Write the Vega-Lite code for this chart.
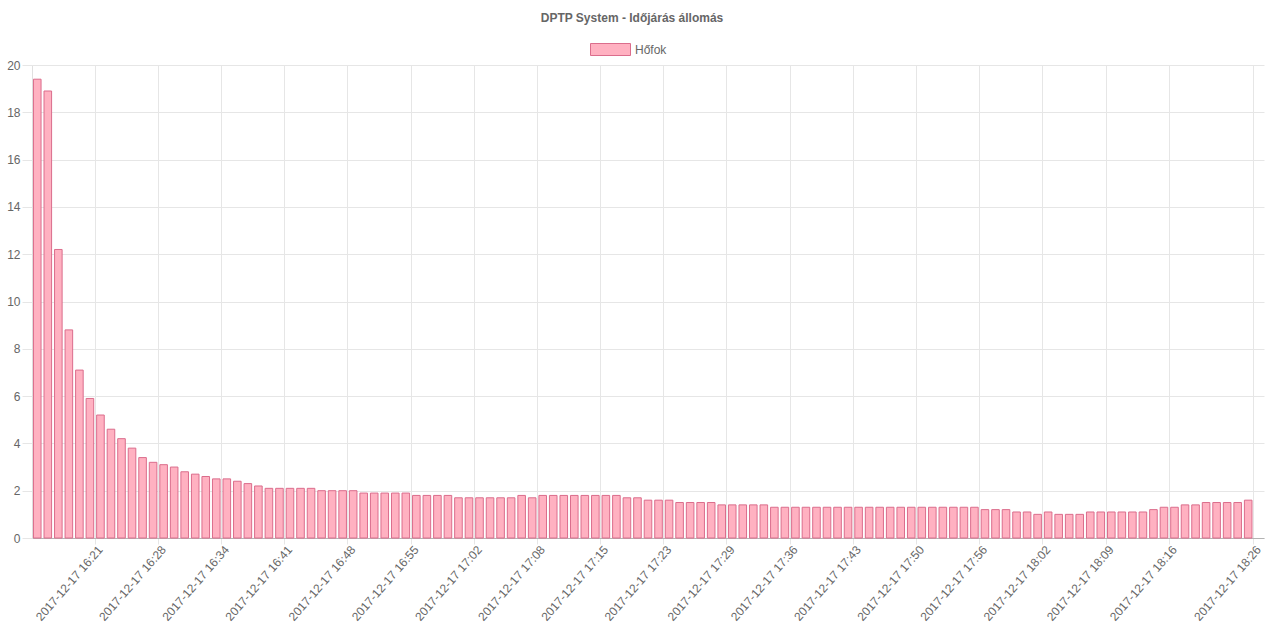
{
  "$schema": "https://vega.github.io/schema/vega-lite/v6.json",
  "width": 1232,
  "height": 473,
  "autosize": {"type": "none"},
  "padding": {"left": 32, "top": 65, "right": 16, "bottom": 100},
  "background": "white",
  "title": {
    "text": "DPTP System - Időjárás állomás",
    "anchor": "middle",
    "frame": "group",
    "dx": -16,
    "offset": -1,
    "baseline": "middle",
    "font": "Liberation Sans",
    "fontSize": 12,
    "fontWeight": "bold",
    "color": "#666666"
  },
  "data": {
    "values": [
      {"ido": "2017-12-17 16:14", "hofok": 19.4, "sorozat": "Hőfok"},
      {"ido": "2017-12-17 16:15", "hofok": 18.9, "sorozat": "Hőfok"},
      {"ido": "2017-12-17 16:16", "hofok": 12.2, "sorozat": "Hőfok"},
      {"ido": "2017-12-17 16:17", "hofok": 8.8, "sorozat": "Hőfok"},
      {"ido": "2017-12-17 16:19", "hofok": 7.1, "sorozat": "Hőfok"},
      {"ido": "2017-12-17 16:20", "hofok": 5.9, "sorozat": "Hőfok"},
      {"ido": "2017-12-17 16:21", "hofok": 5.2, "sorozat": "Hőfok"},
      {"ido": "2017-12-17 16:22", "hofok": 4.6, "sorozat": "Hőfok"},
      {"ido": "2017-12-17 16:23", "hofok": 4.2, "sorozat": "Hőfok"},
      {"ido": "2017-12-17 16:24", "hofok": 3.8, "sorozat": "Hőfok"},
      {"ido": "2017-12-17 16:26", "hofok": 3.4, "sorozat": "Hőfok"},
      {"ido": "2017-12-17 16:27", "hofok": 3.2, "sorozat": "Hőfok"},
      {"ido": "2017-12-17 16:28", "hofok": 3.1, "sorozat": "Hőfok"},
      {"ido": "2017-12-17 16:29", "hofok": 3.0, "sorozat": "Hőfok"},
      {"ido": "2017-12-17 16:30", "hofok": 2.8, "sorozat": "Hőfok"},
      {"ido": "2017-12-17 16:31", "hofok": 2.7, "sorozat": "Hőfok"},
      {"ido": "2017-12-17 16:32", "hofok": 2.6, "sorozat": "Hőfok"},
      {"ido": "2017-12-17 16:33", "hofok": 2.5, "sorozat": "Hőfok"},
      {"ido": "2017-12-17 16:34", "hofok": 2.5, "sorozat": "Hőfok"},
      {"ido": "2017-12-17 16:35", "hofok": 2.4, "sorozat": "Hőfok"},
      {"ido": "2017-12-17 16:36", "hofok": 2.3, "sorozat": "Hőfok"},
      {"ido": "2017-12-17 16:37", "hofok": 2.2, "sorozat": "Hőfok"},
      {"ido": "2017-12-17 16:39", "hofok": 2.1, "sorozat": "Hőfok"},
      {"ido": "2017-12-17 16:40", "hofok": 2.1, "sorozat": "Hőfok"},
      {"ido": "2017-12-17 16:41", "hofok": 2.1, "sorozat": "Hőfok"},
      {"ido": "2017-12-17 16:42", "hofok": 2.1, "sorozat": "Hőfok"},
      {"ido": "2017-12-17 16:43", "hofok": 2.1, "sorozat": "Hőfok"},
      {"ido": "2017-12-17 16:44", "hofok": 2.0, "sorozat": "Hőfok"},
      {"ido": "2017-12-17 16:46", "hofok": 2.0, "sorozat": "Hőfok"},
      {"ido": "2017-12-17 16:47", "hofok": 2.0, "sorozat": "Hőfok"},
      {"ido": "2017-12-17 16:48", "hofok": 2.0, "sorozat": "Hőfok"},
      {"ido": "2017-12-17 16:49", "hofok": 1.9, "sorozat": "Hőfok"},
      {"ido": "2017-12-17 16:50", "hofok": 1.9, "sorozat": "Hőfok"},
      {"ido": "2017-12-17 16:51", "hofok": 1.9, "sorozat": "Hőfok"},
      {"ido": "2017-12-17 16:53", "hofok": 1.9, "sorozat": "Hőfok"},
      {"ido": "2017-12-17 16:54", "hofok": 1.9, "sorozat": "Hőfok"},
      {"ido": "2017-12-17 16:55", "hofok": 1.8, "sorozat": "Hőfok"},
      {"ido": "2017-12-17 16:56", "hofok": 1.8, "sorozat": "Hőfok"},
      {"ido": "2017-12-17 16:57", "hofok": 1.8, "sorozat": "Hőfok"},
      {"ido": "2017-12-17 16:58", "hofok": 1.8, "sorozat": "Hőfok"},
      {"ido": "2017-12-17 17:00", "hofok": 1.7, "sorozat": "Hőfok"},
      {"ido": "2017-12-17 17:01", "hofok": 1.7, "sorozat": "Hőfok"},
      {"ido": "2017-12-17 17:02", "hofok": 1.7, "sorozat": "Hőfok"},
      {"ido": "2017-12-17 17:03", "hofok": 1.7, "sorozat": "Hőfok"},
      {"ido": "2017-12-17 17:04", "hofok": 1.7, "sorozat": "Hőfok"},
      {"ido": "2017-12-17 17:05", "hofok": 1.7, "sorozat": "Hőfok"},
      {"ido": "2017-12-17 17:06", "hofok": 1.8, "sorozat": "Hőfok"},
      {"ido": "2017-12-17 17:07", "hofok": 1.7, "sorozat": "Hőfok"},
      {"ido": "2017-12-17 17:08", "hofok": 1.8, "sorozat": "Hőfok"},
      {"ido": "2017-12-17 17:09", "hofok": 1.8, "sorozat": "Hőfok"},
      {"ido": "2017-12-17 17:10", "hofok": 1.8, "sorozat": "Hőfok"},
      {"ido": "2017-12-17 17:11", "hofok": 1.8, "sorozat": "Hőfok"},
      {"ido": "2017-12-17 17:13", "hofok": 1.8, "sorozat": "Hőfok"},
      {"ido": "2017-12-17 17:14", "hofok": 1.8, "sorozat": "Hőfok"},
      {"ido": "2017-12-17 17:15", "hofok": 1.8, "sorozat": "Hőfok"},
      {"ido": "2017-12-17 17:16", "hofok": 1.8, "sorozat": "Hőfok"},
      {"ido": "2017-12-17 17:17", "hofok": 1.7, "sorozat": "Hőfok"},
      {"ido": "2017-12-17 17:19", "hofok": 1.7, "sorozat": "Hőfok"},
      {"ido": "2017-12-17 17:20", "hofok": 1.6, "sorozat": "Hőfok"},
      {"ido": "2017-12-17 17:22", "hofok": 1.6, "sorozat": "Hőfok"},
      {"ido": "2017-12-17 17:23", "hofok": 1.6, "sorozat": "Hőfok"},
      {"ido": "2017-12-17 17:24", "hofok": 1.5, "sorozat": "Hőfok"},
      {"ido": "2017-12-17 17:25", "hofok": 1.5, "sorozat": "Hőfok"},
      {"ido": "2017-12-17 17:26", "hofok": 1.5, "sorozat": "Hőfok"},
      {"ido": "2017-12-17 17:27", "hofok": 1.5, "sorozat": "Hőfok"},
      {"ido": "2017-12-17 17:28", "hofok": 1.4, "sorozat": "Hőfok"},
      {"ido": "2017-12-17 17:29", "hofok": 1.4, "sorozat": "Hőfok"},
      {"ido": "2017-12-17 17:30", "hofok": 1.4, "sorozat": "Hőfok"},
      {"ido": "2017-12-17 17:31", "hofok": 1.4, "sorozat": "Hőfok"},
      {"ido": "2017-12-17 17:32", "hofok": 1.4, "sorozat": "Hőfok"},
      {"ido": "2017-12-17 17:34", "hofok": 1.3, "sorozat": "Hőfok"},
      {"ido": "2017-12-17 17:35", "hofok": 1.3, "sorozat": "Hőfok"},
      {"ido": "2017-12-17 17:36", "hofok": 1.3, "sorozat": "Hőfok"},
      {"ido": "2017-12-17 17:37", "hofok": 1.3, "sorozat": "Hőfok"},
      {"ido": "2017-12-17 17:38", "hofok": 1.3, "sorozat": "Hőfok"},
      {"ido": "2017-12-17 17:39", "hofok": 1.3, "sorozat": "Hőfok"},
      {"ido": "2017-12-17 17:41", "hofok": 1.3, "sorozat": "Hőfok"},
      {"ido": "2017-12-17 17:42", "hofok": 1.3, "sorozat": "Hőfok"},
      {"ido": "2017-12-17 17:43", "hofok": 1.3, "sorozat": "Hőfok"},
      {"ido": "2017-12-17 17:44", "hofok": 1.3, "sorozat": "Hőfok"},
      {"ido": "2017-12-17 17:45", "hofok": 1.3, "sorozat": "Hőfok"},
      {"ido": "2017-12-17 17:46", "hofok": 1.3, "sorozat": "Hőfok"},
      {"ido": "2017-12-17 17:48", "hofok": 1.3, "sorozat": "Hőfok"},
      {"ido": "2017-12-17 17:49", "hofok": 1.3, "sorozat": "Hőfok"},
      {"ido": "2017-12-17 17:50", "hofok": 1.3, "sorozat": "Hőfok"},
      {"ido": "2017-12-17 17:51", "hofok": 1.3, "sorozat": "Hőfok"},
      {"ido": "2017-12-17 17:52", "hofok": 1.3, "sorozat": "Hőfok"},
      {"ido": "2017-12-17 17:53", "hofok": 1.3, "sorozat": "Hőfok"},
      {"ido": "2017-12-17 17:54", "hofok": 1.3, "sorozat": "Hőfok"},
      {"ido": "2017-12-17 17:55", "hofok": 1.3, "sorozat": "Hőfok"},
      {"ido": "2017-12-17 17:56", "hofok": 1.2, "sorozat": "Hőfok"},
      {"ido": "2017-12-17 17:57", "hofok": 1.2, "sorozat": "Hőfok"},
      {"ido": "2017-12-17 17:58", "hofok": 1.2, "sorozat": "Hőfok"},
      {"ido": "2017-12-17 17:59", "hofok": 1.1, "sorozat": "Hőfok"},
      {"ido": "2017-12-17 18:00", "hofok": 1.1, "sorozat": "Hőfok"},
      {"ido": "2017-12-17 18:01", "hofok": 1.0, "sorozat": "Hőfok"},
      {"ido": "2017-12-17 18:02", "hofok": 1.1, "sorozat": "Hőfok"},
      {"ido": "2017-12-17 18:03", "hofok": 1.0, "sorozat": "Hőfok"},
      {"ido": "2017-12-17 18:04", "hofok": 1.0, "sorozat": "Hőfok"},
      {"ido": "2017-12-17 18:05", "hofok": 1.0, "sorozat": "Hőfok"},
      {"ido": "2017-12-17 18:07", "hofok": 1.1, "sorozat": "Hőfok"},
      {"ido": "2017-12-17 18:08", "hofok": 1.1, "sorozat": "Hőfok"},
      {"ido": "2017-12-17 18:09", "hofok": 1.1, "sorozat": "Hőfok"},
      {"ido": "2017-12-17 18:10", "hofok": 1.1, "sorozat": "Hőfok"},
      {"ido": "2017-12-17 18:11", "hofok": 1.1, "sorozat": "Hőfok"},
      {"ido": "2017-12-17 18:12", "hofok": 1.1, "sorozat": "Hőfok"},
      {"ido": "2017-12-17 18:14", "hofok": 1.2, "sorozat": "Hőfok"},
      {"ido": "2017-12-17 18:15", "hofok": 1.3, "sorozat": "Hőfok"},
      {"ido": "2017-12-17 18:16", "hofok": 1.3, "sorozat": "Hőfok"},
      {"ido": "2017-12-17 18:17", "hofok": 1.4, "sorozat": "Hőfok"},
      {"ido": "2017-12-17 18:18", "hofok": 1.4, "sorozat": "Hőfok"},
      {"ido": "2017-12-17 18:20", "hofok": 1.5, "sorozat": "Hőfok"},
      {"ido": "2017-12-17 18:21", "hofok": 1.5, "sorozat": "Hőfok"},
      {"ido": "2017-12-17 18:22", "hofok": 1.5, "sorozat": "Hőfok"},
      {"ido": "2017-12-17 18:23", "hofok": 1.5, "sorozat": "Hőfok"},
      {"ido": "2017-12-17 18:24", "hofok": 1.6, "sorozat": "Hőfok"}
    ]
  },
  "mark": {
    "type": "bar",
    "width": {"band": 0.72},
    "stroke": "#db6d8c",
    "strokeWidth": 1,
    "opacity": 1
  },
  "encoding": {
    "x": {
      "field": "ido",
      "type": "ordinal",
      "scale": {
        "domain": [
          "2017-12-17 16:14", "2017-12-17 16:15", "2017-12-17 16:16", "2017-12-17 16:17", "2017-12-17 16:19", "2017-12-17 16:20",
          "2017-12-17 16:21", "2017-12-17 16:22", "2017-12-17 16:23", "2017-12-17 16:24", "2017-12-17 16:26", "2017-12-17 16:27",
          "2017-12-17 16:28", "2017-12-17 16:29", "2017-12-17 16:30", "2017-12-17 16:31", "2017-12-17 16:32", "2017-12-17 16:33",
          "2017-12-17 16:34", "2017-12-17 16:35", "2017-12-17 16:36", "2017-12-17 16:37", "2017-12-17 16:39", "2017-12-17 16:40",
          "2017-12-17 16:41", "2017-12-17 16:42", "2017-12-17 16:43", "2017-12-17 16:44", "2017-12-17 16:46", "2017-12-17 16:47",
          "2017-12-17 16:48", "2017-12-17 16:49", "2017-12-17 16:50", "2017-12-17 16:51", "2017-12-17 16:53", "2017-12-17 16:54",
          "2017-12-17 16:55", "2017-12-17 16:56", "2017-12-17 16:57", "2017-12-17 16:58", "2017-12-17 17:00", "2017-12-17 17:01",
          "2017-12-17 17:02", "2017-12-17 17:03", "2017-12-17 17:04", "2017-12-17 17:05", "2017-12-17 17:06", "2017-12-17 17:07",
          "2017-12-17 17:08", "2017-12-17 17:09", "2017-12-17 17:10", "2017-12-17 17:11", "2017-12-17 17:13", "2017-12-17 17:14",
          "2017-12-17 17:15", "2017-12-17 17:16", "2017-12-17 17:17", "2017-12-17 17:19", "2017-12-17 17:20", "2017-12-17 17:22",
          "2017-12-17 17:23", "2017-12-17 17:24", "2017-12-17 17:25", "2017-12-17 17:26", "2017-12-17 17:27", "2017-12-17 17:28",
          "2017-12-17 17:29", "2017-12-17 17:30", "2017-12-17 17:31", "2017-12-17 17:32", "2017-12-17 17:34", "2017-12-17 17:35",
          "2017-12-17 17:36", "2017-12-17 17:37", "2017-12-17 17:38", "2017-12-17 17:39", "2017-12-17 17:41", "2017-12-17 17:42",
          "2017-12-17 17:43", "2017-12-17 17:44", "2017-12-17 17:45", "2017-12-17 17:46", "2017-12-17 17:48", "2017-12-17 17:49",
          "2017-12-17 17:50", "2017-12-17 17:51", "2017-12-17 17:52", "2017-12-17 17:53", "2017-12-17 17:54", "2017-12-17 17:55",
          "2017-12-17 17:56", "2017-12-17 17:57", "2017-12-17 17:58", "2017-12-17 17:59", "2017-12-17 18:00", "2017-12-17 18:01",
          "2017-12-17 18:02", "2017-12-17 18:03", "2017-12-17 18:04", "2017-12-17 18:05", "2017-12-17 18:07", "2017-12-17 18:08",
          "2017-12-17 18:09", "2017-12-17 18:10", "2017-12-17 18:11", "2017-12-17 18:12", "2017-12-17 18:14", "2017-12-17 18:15",
          "2017-12-17 18:16", "2017-12-17 18:17", "2017-12-17 18:18", "2017-12-17 18:20", "2017-12-17 18:21", "2017-12-17 18:22",
          "2017-12-17 18:23", "2017-12-17 18:24", "2017-12-17 18:26"
        ],
        "paddingInner": 0,
        "paddingOuter": 0
      },
      "axis": {
        "title": null,
        "values": [
          "2017-12-17 16:21", "2017-12-17 16:28", "2017-12-17 16:34", "2017-12-17 16:41", "2017-12-17 16:48",
          "2017-12-17 16:55", "2017-12-17 17:02", "2017-12-17 17:08", "2017-12-17 17:15", "2017-12-17 17:23",
          "2017-12-17 17:29", "2017-12-17 17:36", "2017-12-17 17:43", "2017-12-17 17:50", "2017-12-17 17:56",
          "2017-12-17 18:02", "2017-12-17 18:09", "2017-12-17 18:16", "2017-12-17 18:26"
        ],
        "bandPosition": 0,
        "grid": true,
        "gridColor": "#e6e6e6",
        "gridWidth": 1,
        "tickSize": 6,
        "tickColor": "#e6e6e6",
        "domainColor": "#b3b3b3",
        "labelAngle": -49,
        "labelAlign": "right",
        "labelBaseline": "middle",
        "labelPadding": 3,
        "labelFont": "Liberation Sans",
        "labelFontSize": 12,
        "labelColor": "#666666",
        "labelOverlap": false,
        "labelBound": false
      }
    },
    "y": {
      "field": "hofok",
      "type": "quantitative",
      "scale": {"domain": [0, 20], "nice": false},
      "axis": {
        "title": null,
        "values": [0, 2, 4, 6, 8, 10, 12, 14, 16, 18, 20],
        "grid": true,
        "gridColor": "#e6e6e6",
        "tickSize": 10,
        "tickColor": "#e6e6e6",
        "domainColor": "#e0e0e0",
        "labelPadding": 2,
        "labelFont": "Liberation Sans",
        "labelFontSize": 12,
        "labelColor": "#666666"
      }
    },
    "color": {
      "field": "sorozat",
      "type": "nominal",
      "scale": {"range": ["#ffb1c1"]},
      "legend": {
        "title": null,
        "orient": "none",
        "legendX": 558,
        "legendY": -36,
        "padding": 0,
        "symbolType": "M-1,-0.3H1V0.3H-1Z",
        "symbolSize": 1600,
        "symbolStrokeColor": "#db6d8c",
        "symbolStrokeWidth": 1,
        "symbolOpacity": 1,
        "labelFont": "Liberation Sans",
        "labelFontSize": 12,
        "labelColor": "#666666",
        "labelOffset": 4
      }
    }
  },
  "config": {
    "view": {"stroke": null}
  }
}
